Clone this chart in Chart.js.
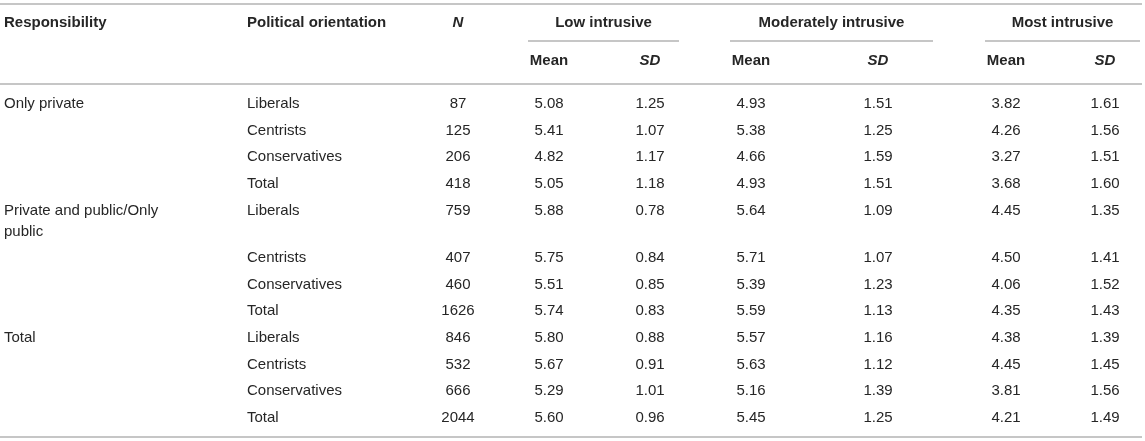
<!DOCTYPE html>
<html>
<head>
<meta charset="utf-8">
<script src="https://cdn.jsdelivr.net/npm/chart.js@4"></script>
<style>
  html, body { margin: 0; padding: 0; background: #fff; }
  #wrap { width: 1145px; height: 441px; }
</style>
</head>
<body>
<div id="wrap"><canvas id="tableChart" width="1145" height="441"></canvas></div>
<script>
// table content
const responsibility = ['Only private', 'Private and public/Only public', 'Total'];
const orientations = ['Liberals', 'Centrists', 'Conservatives', 'Total'];
const groups = ['Low intrusive', 'Moderately intrusive', 'Most intrusive'];
const subHeads = ['Mean', 'SD'];

const nValues  = [87, 125, 206, 418, 759, 407, 460, 1626, 846, 532, 666, 2044];
const lowMean  = [5.08, 5.41, 4.82, 5.05, 5.88, 5.75, 5.51, 5.74, 5.80, 5.67, 5.29, 5.60];
const lowSD    = [1.25, 1.07, 1.17, 1.18, 0.78, 0.84, 0.85, 0.83, 0.88, 0.91, 1.01, 0.96];
const modMean  = [4.93, 5.38, 4.66, 4.93, 5.64, 5.71, 5.39, 5.59, 5.57, 5.63, 5.16, 5.45];
const modSD    = [1.51, 1.25, 1.59, 1.51, 1.09, 1.07, 1.23, 1.13, 1.16, 1.12, 1.39, 1.25];
const mostMean = [3.82, 4.26, 3.27, 3.68, 4.45, 4.50, 4.06, 4.35, 4.38, 4.45, 3.81, 4.21];
const mostSD   = [1.61, 1.56, 1.51, 1.60, 1.35, 1.41, 1.52, 1.43, 1.39, 1.45, 1.56, 1.49];

// layout (scale units = css px)
const colLeft = { resp: 4, orient: 247 };
const colN = 458;
const groupCols = [
  { from: 528, to: 679, mean: 549, sd: 650 },
  { from: 730, to: 933, mean: 751, sd: 878 },
  { from: 985, to: 1140, mean: 1006, sd: 1105 }
];
const rowY = { top: 4, head: 23, under: 41, sub: 61, sep: 84, first: 104, bottom: 437 };
const rowPitch = 26.6;
const wrapGap = 21;
const respWidth = 180;

const textColor = '#262626';
const ruleColor = '#b3b3b3';
const fontFamily = '"Liberation Sans", Arial, Helvetica, sans-serif';

function wrapText(ctx, text, maxWidth) {
  const words = text.split(' ');
  const lines = [];
  let line = '';
  words.forEach(w => {
    const test = line ? line + ' ' + w : w;
    if (ctx.measureText(test).width > maxWidth && line) {
      lines.push(line);
      line = w;
    } else {
      line = test;
    }
  });
  if (line) lines.push(line);
  return lines;
}

const tablePlugin = {
  id: 'tablePlugin',
  afterDraw(chart) {
    const ctx = chart.ctx;
    const xs = chart.scales.x;
    const ys = chart.scales.y;
    const X = v => xs.getPixelForValue(v);
    const Y = v => ys.getPixelForValue(v);

    ctx.save();
    ctx.textBaseline = 'middle';

    // rules
    ctx.strokeStyle = ruleColor;
    ctx.lineWidth = 1.5;
    const rule = (x1, x2, y) => {
      ctx.beginPath();
      ctx.moveTo(X(x1), Y(y));
      ctx.lineTo(X(x2), Y(y));
      ctx.stroke();
    };
    rule(0, 1142, rowY.top);
    rule(0, 1142, rowY.sep);
    rule(0, 1142, rowY.bottom);
    groupCols.forEach(g => rule(g.from, g.to, rowY.under));

    // header
    ctx.fillStyle = textColor;
    ctx.font = 'bold 15px ' + fontFamily;
    ctx.textAlign = 'left';
    ctx.fillText('Responsibility', X(colLeft.resp), Y(rowY.head));
    ctx.fillText('Political orientation', X(colLeft.orient), Y(rowY.head));
    ctx.textAlign = 'center';
    groups.forEach((name, i) => {
      const g = groupCols[i];
      ctx.fillText(name, X((g.from + g.to) / 2), Y(rowY.head));
      ctx.fillText(subHeads[0], X(g.mean), Y(rowY.sub));
    });
    ctx.font = 'italic bold 15px ' + fontFamily;
    ctx.fillText('N', X(colN), Y(rowY.head));
    groupCols.forEach(g => ctx.fillText(subHeads[1], X(g.sd), Y(rowY.sub)));

    // body
    ctx.font = '15px ' + fontFamily;
    let y = rowY.first;
    responsibility.forEach((resp, r) => {
      ctx.textAlign = 'left';
      const lines = wrapText(ctx, resp, respWidth);
      orientations.forEach((orient, o) => {
        const i = r * orientations.length + o;
        const extra = (o === 0 ? lines.length - 1 : 0) * wrapGap;
        ctx.textAlign = 'left';
        if (o === 0) {
          lines.forEach((ln, k) => ctx.fillText(ln, X(colLeft.resp), Y(y + k * wrapGap)));
        }
        ctx.fillText(orient, X(colLeft.orient), Y(y));
        ctx.textAlign = 'center';
        ctx.fillText(String(nValues[i]), X(colN), Y(y));
        const vals = [[lowMean, lowSD], [modMean, modSD], [mostMean, mostSD]];
        vals.forEach((pair, gi) => {
          const g = groupCols[gi];
          ctx.fillText(pair[0][i].toFixed(2), X(g.mean), Y(y));
          ctx.fillText(pair[1][i].toFixed(2), X(g.sd), Y(y));
        });
        y += rowPitch + extra;
      });
    });

    ctx.restore();
  }
};

new Chart(document.getElementById('tableChart'), {
  type: 'scatter',
  data: { datasets: [] },
  options: {
    responsive: false,
    animation: false,
    layout: { padding: 0 },
    plugins: { legend: { display: false }, tooltip: { enabled: false } },
    scales: {
      x: { type: 'linear', min: 0, max: 1145, display: false },
      y: { type: 'linear', min: 0, max: 441, reverse: true, display: false }
    }
  },
  plugins: [tablePlugin]
});
</script>
</body>
</html>
